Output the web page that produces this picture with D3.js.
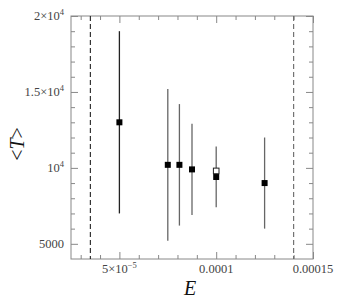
<!DOCTYPE html>
<html><head><meta charset="utf-8">
<script src="https://cdn.jsdelivr.net/npm/d3@7"></script>
<style>body{margin:0;background:#fff}svg{display:block}</style>
</head><body>
<script>
const E = [5e-5, 7.5e-5, 8.1e-5, 8.75e-5, 1e-4, 1.25e-4];
const T = [13000, 10200, 10200, 9900, 9400, 9000];
const Tlow = [7000, 5200, 6200, 6900, 7400, 6000];
const Thigh = [19000, 15200, 14200, 12900, 11400, 12000];
const openE = [1e-4];
const openT = [9800];
const dashedE = [3.5e-5, 1.4e-4];
const xMajor = [5e-5, 1e-4, 1.5e-4];
const xLabels = [["5×10", "−5"], ["0.0001", null], ["0.00015", null]];
const yMajor = [5000, 10000, 15000, 20000];
const yLabels = [["5000", null], ["10", "4"], ["1.5×10", "4"], ["2×10", "4"]];

const W = 351, H = 301;
const m = {l: 71, r: 38, t: 16, b: 42};
const svg = d3.select("body").append("svg").attr("width", W).attr("height", H);
const x = d3.scaleLinear().domain([2.5e-5, 1.5e-4]).range([m.l, W - m.r]);
const y = d3.scaleLinear().domain([4000, 20000]).range([H - m.b, m.t]);
const axisCol = "#888";
const font = "Liberation Serif, serif";

const xMinor = d3.range(3, 15).map(d => d * 1e-5).filter(v => !xMajor.some(M => Math.abs(M - v) < 1e-9));
const yMinor = d3.range(5, 20).map(d => d * 1000).filter(v => !yMajor.includes(v));

function styleAxis(g) {
  g.select(".domain").remove();
  g.selectAll("line").attr("stroke", axisCol);
  g.selectAll("text").remove();
}
svg.append("g").attr("transform", `translate(0,${H - m.b})`).call(d3.axisTop(x).tickValues(xMajor).tickSize(7)).call(styleAxis);
svg.append("g").attr("transform", `translate(0,${H - m.b})`).call(d3.axisTop(x).tickValues(xMinor).tickSize(4)).call(styleAxis);
svg.append("g").attr("transform", `translate(0,${m.t})`).call(d3.axisBottom(x).tickValues(xMajor).tickSize(7)).call(styleAxis);
svg.append("g").attr("transform", `translate(0,${m.t})`).call(d3.axisBottom(x).tickValues(xMinor).tickSize(4)).call(styleAxis);
svg.append("g").attr("transform", `translate(${m.l},0)`).call(d3.axisRight(y).tickValues(yMajor).tickSize(7)).call(styleAxis);
svg.append("g").attr("transform", `translate(${m.l},0)`).call(d3.axisRight(y).tickValues(yMinor).tickSize(4)).call(styleAxis);
svg.append("g").attr("transform", `translate(${W - m.r},0)`).call(d3.axisLeft(y).tickValues(yMajor).tickSize(7)).call(styleAxis);
svg.append("g").attr("transform", `translate(${W - m.r},0)`).call(d3.axisLeft(y).tickValues(yMinor).tickSize(4)).call(styleAxis);

svg.append("rect").attr("x", m.l).attr("y", m.t).attr("width", W - m.l - m.r).attr("height", H - m.t - m.b)
  .attr("fill", "none").attr("stroke", axisCol).attr("stroke-width", 1);

function addLabel(g, parts) {
  g.append("tspan").text(parts[0]);
  if (parts[1]) g.append("tspan").attr("font-size", 8.5).attr("dy", -5).text(parts[1]);
}
xMajor.forEach((v, i) => {
  const t = svg.append("text").attr("x", x(v)).attr("y", H - m.b + 14).attr("text-anchor", "middle")
    .attr("font-family", font).attr("font-size", 12.5).attr("fill", "#444");
  addLabel(t, xLabels[i]);
});
yMajor.forEach((v, i) => {
  const t = svg.append("text").attr("x", m.l - 7).attr("y", y(v) + 4).attr("text-anchor", "end")
    .attr("font-family", font).attr("font-size", 12.5).attr("fill", "#444");
  addLabel(t, yLabels[i]);
});

svg.selectAll(".dash").data(dashedE).join("line")
  .attr("x1", d => x(d)).attr("x2", d => x(d)).attr("y1", m.t).attr("y2", H - m.b)
  .attr("stroke", (d, i) => i === 0 ? "#222" : "#666").attr("stroke-width", 1.1).attr("stroke-dasharray", "5,3");

svg.selectAll(".err").data(E).join("line")
  .attr("x1", d => x(d)).attr("x2", d => x(d))
  .attr("y1", (d, i) => y(Thigh[i])).attr("y2", (d, i) => y(Tlow[i]))
  .attr("stroke", (d, i) => i === 0 ? "#222" : "#666").attr("stroke-width", 1.3);

const s = 6;
svg.selectAll(".pt").data(E).join("rect")
  .attr("x", d => x(d) - s / 2).attr("y", (d, i) => y(T[i]) - s / 2)
  .attr("width", s).attr("height", s).attr("fill", "#000");
svg.selectAll(".opt").data(openE).join("rect")
  .attr("x", d => x(d) - 2.8).attr("y", (d, i) => y(openT[i]) - 2.8)
  .attr("width", 5.6).attr("height", 5.6).attr("fill", "#fff").attr("stroke", "#222").attr("stroke-width", 1);

svg.append("text").attr("x", 190).attr("y", 295).attr("text-anchor", "middle")
  .attr("font-family", font).attr("font-style", "italic").attr("font-size", 20).attr("fill", "#111").text("E");
const yl = svg.append("text").attr("transform", `translate(24,144) rotate(-90)`)
  .attr("text-anchor", "middle").attr("font-family", font).attr("font-size", 20).attr("fill", "#111");
yl.append("tspan").text("<");
yl.append("tspan").attr("font-style", "italic").text("T");
yl.append("tspan").text(">");
</script>
</body></html>
